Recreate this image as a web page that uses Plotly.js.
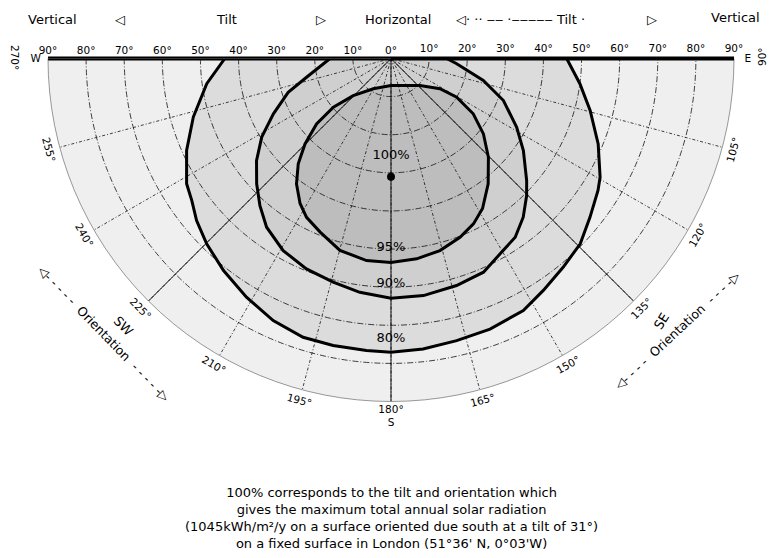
<!DOCTYPE html>
<html>
<head>
<meta charset="utf-8">
<script src="https://cdn.plot.ly/plotly-3.0.1.min.js"></script>
<style>
html,body{margin:0;padding:0;background:#ffffff;}
#chart{width:776px;height:558px;}
</style>
</head>
<body>
<div id="chart"></div>
<script>
// ---------------- data ----------------
// tilt (radial, degrees from horizontal) and orientation (angular, compass degrees)
const tiltTicksLeft = [0, 10, 20, 30, 40, 50, 60, 70, 80, 90];
const tiltTicksRight = [10, 20, 30, 40, 50, 60, 70, 80, 90];
const orientTicks = [90, 105, 120, 135, 150, 165, 180, 195, 210, 225, 240, 255, 270];
const orientLabels = ['\u00a0\u00a0\u00a0E', '105°', '120°', '135°', '150°', '165°', '180°<br>S', '195°', '210°', '225°', '240°', '255°', 'W\u00a0\u00a0'];
const orientGrid = [105, 120, 135, 150, 165, 180, 195, 210, 225, 240, 255];
const mainOrient = [135, 180, 225];

// 80% contour (orientation, tilt)
const c80Theta = [270, 262.2, 253.5, 245.8, 238.5, 234.5, 230.2, 224.8, 218.3, 211.2, 204.2, 197.5, 191.4, 184.8, 180,
                  173.7, 166.9, 159.9, 152.3, 146.7, 140.5, 134.4, 128.6, 122.5, 119.6, 112.4, 104.6, 97.6, 90];
const c80Tilt  = [43.6, 48.8, 54.1, 58.8, 62.9, 64.2, 66.4, 68.6, 70.9, 73.2, 75.4, 76.7, 76.8, 76.9, 77.1,
                  76.7, 76.0, 75.6, 74.7, 72.8, 71.0, 69.5, 66.8, 64.4, 63.1, 58.8, 54.0, 50.0, 46.1];
// 90% contour
const c90Theta = [270, 257.5, 251.8, 244.8, 238.7, 232.8, 227.0, 221.7, 216.4, 209.3, 201.9, 194.5, 187.6, 180,
                  172.2, 163.9, 156.6, 150.8, 145.2, 140.2, 135.3, 132.0, 124.8, 118.7, 110.5, 103.4, 94.6, 90];
const c90Tilt  = [16.0, 22.7, 28.4, 34.1, 39.7, 44.3, 48.2, 51.7, 55.0, 57.8, 59.5, 60.6, 61.9, 62.9,
                  62.8, 62.0, 61.1, 58.7, 57.1, 54.2, 50.6, 47.9, 42.3, 37.6, 31.5, 24.9, 17.3, 14.6];
// 95% contour (closed loop)
const c95Theta = [180, 210.3, 225.5, 229.8, 228.7, 225.2, 221.4, 217.0, 212.1, 208.0, 202.2, 194.9, 186.9, 180,
                  172.7, 165.7, 158.9, 153.5, 148.6, 142.2, 135.4, 129.2, 123.9, 120.5, 121.7, 133.0, 180];
const c95Tilt  = [7.1, 9.2, 13.9, 19.8, 26.0, 31.8, 36.8, 41.2, 44.9, 47.2, 49.2, 52.1, 53.4, 53.5,
                  53.0, 52.0, 50.3, 48.5, 46.1, 41.6, 36.4, 31.3, 26.0, 20.0, 15.1, 10.4, 7.1];
// optimum (100%)
const optTheta = [180];
const optTilt = [31];
// contour labels
const labelText = ['100%', '95%', '90%', '80%'];
const labelTheta = [180, 180, 180, 180];
const labelTilt = [25.5, 49.6, 59.0, 73.5];

// ---------------- build ----------------
const FONT = '"DejaVu Sans", Verdana, sans-serif';
const black = '#000000';

function closeThroughCentre(th, r) {
  return { theta: th.concat([90]), r: r.concat([0]) };
}
const f80 = closeThroughCentre(c80Theta, c80Tilt);
const f90 = closeThroughCentre(c90Theta, c90Tilt);

const spokeTheta = [], spokeR = [];
mainOrient.forEach(t => { spokeTheta.push(t, t, null); spokeR.push(0, 90, null); });

const traces = [
  { type: 'scatterpolar', subplot: 'polar', theta: f80.theta, r: f80.r, mode: 'none', fill: 'toself', fillcolor: '#dcdcdc', hoverinfo: 'skip' },
  { type: 'scatterpolar', subplot: 'polar', theta: f90.theta, r: f90.r, mode: 'none', fill: 'toself', fillcolor: '#cfcfcf', hoverinfo: 'skip' },
  { type: 'scatterpolar', subplot: 'polar', theta: c95Theta, r: c95Tilt, mode: 'none', fill: 'toself', fillcolor: '#bdbdbd', hoverinfo: 'skip' },

  { type: 'scatterpolar', subplot: 'polar2', theta: spokeTheta, r: spokeR, mode: 'lines', line: { color: black, width: 0.9 }, hoverinfo: 'skip' },
  { type: 'scatterpolar', subplot: 'polar2', theta: c80Theta, r: c80Tilt, mode: 'lines', line: { color: black, width: 3 }, hoverinfo: 'skip' },
  { type: 'scatterpolar', subplot: 'polar2', theta: c90Theta, r: c90Tilt, mode: 'lines', line: { color: black, width: 3 }, hoverinfo: 'skip' },
  { type: 'scatterpolar', subplot: 'polar2', theta: c95Theta, r: c95Tilt, mode: 'lines', line: { color: black, width: 3 }, hoverinfo: 'skip' },
  { type: 'scatterpolar', subplot: 'polar2', theta: optTheta, r: optTilt, mode: 'markers', marker: { color: black, size: 8 }, hoverinfo: 'skip' },
  { type: 'scatterpolar', subplot: 'polar2', theta: labelTheta, r: labelTilt, mode: 'text', text: labelText,
    textfont: { family: FONT, size: 13, color: black }, hoverinfo: 'skip' }
];

const W = 776, H = 558;
const domain = { x: [48 / W, 734 / W], y: [1 - 402 / H, 1 - 58 / H] };
const tickFont = { family: FONT, size: 10.5, color: black };

function px(x) { return x / W; }
function py(y) { return 1 - y / H; }
function ann(text, x, y, opts) {
  return Object.assign({ text: text, x: px(x), y: py(y), xref: 'paper', yref: 'paper', showarrow: false,
    font: { family: FONT, size: 13, color: black }, xanchor: 'center', yanchor: 'middle' }, opts || {});
}

const annotations = [
  ann('Vertical', 53, 19),
  ann('◁', 120, 19),
  ann('Tilt', 226, 19),
  ann('▷', 321, 19),
  ann('Horizontal', 398, 19),
  ann('◁· ·· ‒‒ ·‒‒‒‒‒ Tilt ·', 520, 19),
  ann('▷', 652, 19),
  ann('Vertical', 735, 17),
  ann('270°', 15, 57, { textangle: 90, font: { family: FONT, size: 10.5, color: black } }),
  ann('90°', 762, 57, { textangle: -90, font: { family: FONT, size: 10.5, color: black } }),
  ann('◁- - - - -  Orientation  - - - - -▷', 104, 333, { textangle: 46, font: { family: FONT, size: 12.5, color: black } }),
  ann('◁- - - -  Orientation  - - - -▷', 677, 330, { textangle: -43, font: { family: FONT, size: 12.5, color: black } }),
  ann('SW', 124, 326, { textangle: 45 }),
  ann('SE', 661, 321, { textangle: -58 }),
  ann('100% corresponds to the tilt and orientation which<br>gives the maximum total annual solar radiation<br>' +
      '(1045kWh/m²/y on a surface oriented due south at a tilt of 31°)<br>on a fixed surface in London (51°36\' N, 0°03\'W)',
      391, 518, { font: { family: FONT, size: 13, color: black } })
];

const layout = {
  width: W, height: H,
  margin: { l: 0, r: 0, t: 0, b: 0 },
  paper_bgcolor: '#ffffff',
  showlegend: false,
  hovermode: false,
  polar: {
    domain: domain, sector: [-180, 0], bgcolor: '#efefef',
    radialaxis: {
      range: [0, 90], angle: -180, side: 'clockwise', tickangle: 180,
      tickvals: tiltTicksLeft, ticktext: tiltTicksLeft.map(v => v + '°'),
      showgrid: false, showline: true, linewidth: 4, linecolor: black, ticks: '', tickfont: tickFont
    },
    angularaxis: {
      direction: 'clockwise', rotation: 90,
      tickvals: orientTicks, ticktext: orientLabels,
      showgrid: false, showline: false, ticks: '', tickfont: tickFont
    }
  },
  polar2: {
    domain: domain, sector: [-180, 0], bgcolor: 'rgba(0,0,0,0)',
    radialaxis: {
      range: [0, 90], angle: 0, side: 'counterclockwise', tickangle: 0,
      tickvals: tiltTicksRight, ticktext: tiltTicksRight.map(v => v + '°'),
      showgrid: true, gridcolor: '#111111', gridwidth: 0.8, griddash: '6px,2px,1px,2px',
      showline: true, linewidth: 4, linecolor: black, ticks: '', tickfont: tickFont
    },
    angularaxis: {
      direction: 'clockwise', rotation: 90,
      tickvals: orientGrid, showticklabels: false,
      showgrid: true, gridcolor: '#111111', gridwidth: 0.8, griddash: '3px,2px,1px,2px',
      showline: true, linecolor: '#555555', linewidth: 0.6, ticks: ''
    }
  },
  annotations: annotations
};

Plotly.newPlot('chart', traces, layout, { staticPlot: true, displayModeBar: false }).then(function (gd) {
  // orientation labels: tangent to the rim and centred on the end of each spoke, as in the original drawing
  var cx = W * (domain.x[0] + domain.x[1]) / 2;
  var cy = H * (1 - domain.y[1]);
  var R = Math.min(W * (domain.x[1] - domain.x[0]) / 2, H * (domain.y[1] - domain.y[0]));
  var g = gd.getBoundingClientRect();
  gd.querySelectorAll('.angularaxistick text').forEach(function (t) {
    var v = parseFloat(t.textContent);
    if (isNaN(v) || v === 180) return;
    var bb = t.getBBox();
    var bx = bb.x + bb.width / 2, by = bb.y + bb.height / 2;
    var tr = t.getAttribute('transform') || '';
    tr = tr + ' rotate(' + (v - 180) + ',' + bx + ',' + by + ')';
    t.setAttribute('transform', tr);
    var rc = t.getBoundingClientRect();
    var curX = rc.left + rc.width / 2 - g.left, curY = rc.top + rc.height / 2 - g.top;
    var a = v * Math.PI / 180;
    var tx = cx + (R + 11) * Math.sin(a), ty = cy - (R + 11) * Math.cos(a);
    t.setAttribute('transform', 'translate(' + (tx - curX) + ',' + (ty - curY) + ') ' + tr);
  });
});
</script>
</body>
</html>
